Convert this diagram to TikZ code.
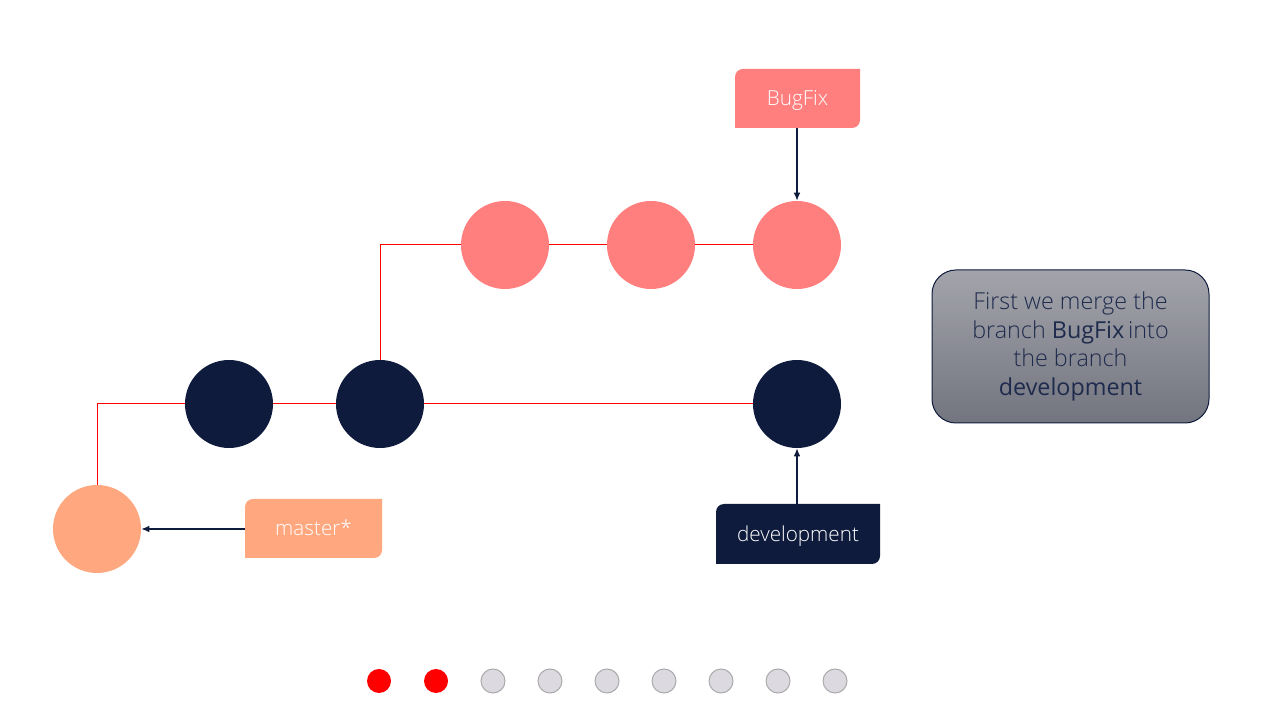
\documentclass[tikz,border=0pt]{standalone}
\usepackage{fontspec}
\setmainfont{Open Sans}[UprightFont=* Light, BoldFont=*]
\usetikzlibrary{arrows.meta,calc}
\definecolor{pinkc}{HTML}{FF7F7F}
\definecolor{salmon}{HTML}{FFA77E}
\definecolor{navy}{HTML}{0E1B3C}
\definecolor{dotfill}{HTML}{DCDAE0}
\definecolor{dotline}{HTML}{AAAAAA}
\definecolor{boxtop}{HTML}{A3A4AB}
\definecolor{boxbot}{HTML}{72747F}
\definecolor{boxtext}{HTML}{1F2B4D}
\newcommand{\tagtext}[1]{\raisebox{-0.36em}[0pt][0pt]{#1}}
\tikzset{
  commit/.style={circle, minimum size=66pt, inner sep=0pt, fill=#1},
  tagbox/.style={minimum width=#1, minimum height=44.25pt, inner sep=0pt,
    text=white, font=\fontsize{15.5}{18}\selectfont},
  tagfill/.style={path picture={
    \fill[#1] let \p1=(path picture bounding box.south west),
                  \p2=(path picture bounding box.north east) in
      (\x1,\y1) -- (\x1,\y2-6pt) arc[start angle=180,end angle=90,radius=6pt]
      -- (\x2,\y2) -- (\x2,\y1+6pt) arc[start angle=0,end angle=-90,radius=6pt]
      -- cycle;}},
  branch/.style={draw=red, line width=0.75pt},
  pointer/.style={draw=navy, line width=1pt, -{Latex[length=6pt,width=5pt]}},
  dot/.style={circle, minimum size=18pt, inner sep=0pt},
}
\begin{document}
\begin{tikzpicture}[x=0.75pt,y=0.75pt]
\useasboundingbox (0,0) rectangle (1280,720);
\fill[white] (0,0) rectangle (1280,720);
% commits
\node[commit=salmon] (m) at (97,191) {};
\node[commit=navy] (d1) at (229,316) {};
\node[commit=navy] (d2) at (380,316) {};
\node[commit=navy] (d3) at (797,316) {};
\node[commit=pinkc] (p1) at (505,475) {};
\node[commit=pinkc] (p2) at (651,475) {};
\node[commit=pinkc] (p3) at (797,475) {};
% branch lines
\draw[branch] (m.north) |- (d1.west);
\draw[branch] (d1.east) -- (d2.west);
\draw[branch] (d2.east) -- (d3.west);
\draw[branch] (d2.north) |- (p1.west);
\draw[branch] (p1.east) -- (p2.west);
\draw[branch] (p2.east) -- (p3.west);
% tags
\node[tagbox=93.75pt, tagfill=pinkc] (bf) at (797.5,621.5) {\tagtext{BugFix}};
\node[tagbox=102.75pt, tagfill=salmon] (ms) at (313.5,191.5) {\tagtext{master*}};
\node[tagbox=123pt, minimum height=45pt, tagfill=navy] (dv) at (798,186) {\tagtext{development}};
\draw[pointer] (p3.north |- bf.south) -- (p3.north);
\draw[pointer] (ms.west |- m.east) -- (m.east);
\draw[pointer] (d3.south |- dv.north) -- (d3.south);
% info box
\node[draw=navy, line width=0.75pt, rounded corners=18pt, top color=boxtop, bottom color=boxbot,
      minimum width=207.75pt, minimum height=114.75pt, inner sep=0pt,
      text=boxtext, align=center, font=\fontsize{17.5}{21.5}\selectfont] (info) at (1070.5,373.5)
  {First we merge the\\branch \textbf{BugFix}\,into\\the branch\\\textbf{development}};
% progress dots
\foreach \i in {0,1} {\node[dot, fill=red] (r\i) at (379+57*\i,39) {};}
\foreach \i in {2,...,8} {\node[dot, fill=dotfill, draw=dotline, line width=0.75pt] (g\i) at (379+57*\i,39) {};}
\end{tikzpicture}
\end{document}
